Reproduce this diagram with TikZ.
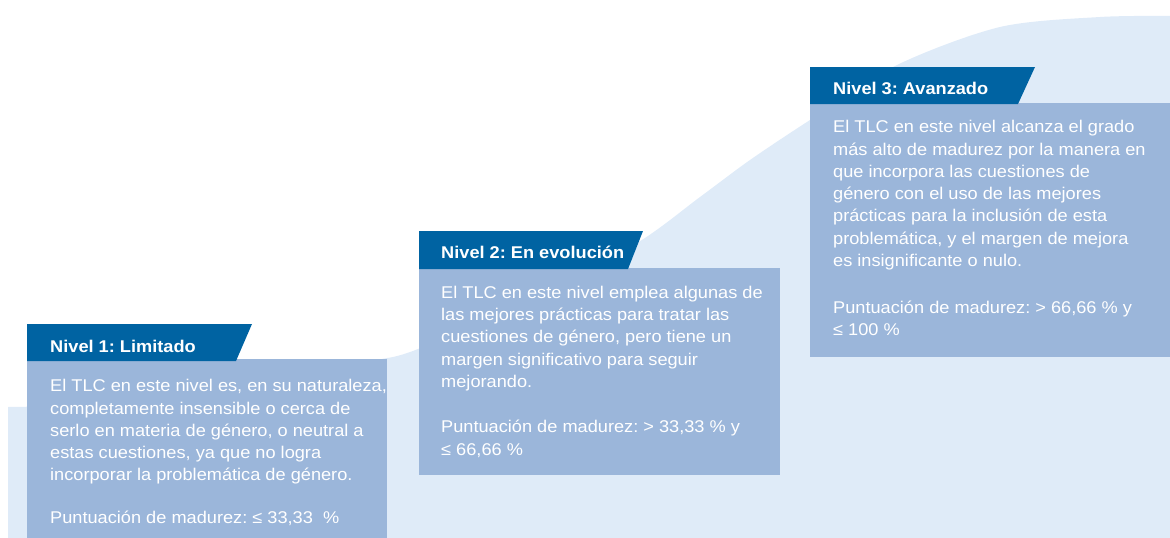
\documentclass[tikz,border=0pt]{standalone}
\usepackage{fontspec}
\setmainfont[FakeStretch=1.07]{Liberation Sans}
\frenchspacing
\definecolor{hdrblue}{HTML}{0063A2}
\definecolor{bodyblue}{HTML}{9BB6DA}
\definecolor{bglight}{HTML}{DFEBF8}
\newcommand{\boxtext}[1]{\parbox[t]{352pt}{\frenchspacing\fontsize{17}{22.3}\selectfont\raggedright #1}}
\tikzset{
  hdrshape/.style={fill=hdrblue},
  bodyshape/.style={fill=bodyblue},
  hdrtext/.style={text=white, inner sep=0pt, anchor=base west, font=\fontsize{17}{20}\selectfont\bfseries\frenchspacing},
  bodytext/.style={text=white, inner sep=0pt, anchor=base west},
}
\begin{document}
\begin{tikzpicture}[x=1pt,y=-1pt]
\useasboundingbox (0,0) rectangle (1170,538);
% background wave
\fill[bglight] (8,538) -- (8,407) -- (150,405) -- plot[smooth] coordinates {(387,358) (418,349) (530,300) (637,243) (700,197) (750,160) (810,120) (897,65) (1000,27) (1100,17) (1170,16)} -- (1170,538) -- cycle;

% Box 1
\fill[bodyshape] (27,359) rectangle (387,538);
\fill[hdrshape] (27,324) -- (252,324) -- (236,361) -- (27,361) -- cycle;
\node[hdrtext] (h1) at (50,352.3) {Nivel 1: Limitado};
\node[bodytext] (t1a) at (50,391.7) {\boxtext{El TLC en este nivel es, en su naturaleza,\\completamente insensible o cerca de\\serlo en materia de género, o neutral a\\estas cuestiones, ya que no logra\\incorporar la problemática de género.}};
\node[bodytext] (t1b) at (50,523.3) {\boxtext{Puntuación de madurez: ≤ 33,33\ \ \%}};

% Box 2
\fill[bodyshape] (419,268) rectangle (780,475);
\fill[hdrshape] (419,231) -- (643,231) -- (628,269) -- (419,269) -- cycle;
\node[hdrtext] (h2) at (441,258.3) {Nivel 2: En evolución};
\node[bodytext] (t2a) at (441,298.3) {\boxtext{El TLC en este nivel emplea algunas de\\las mejores prácticas para tratar las\\cuestiones de género, pero tiene un\\margen significativo para seguir\\mejorando.}};
\node[bodytext] (t2b) at (441,432.7) {\boxtext{Puntuación de madurez: > 33,33 \% y\\≤ 66,66 \%}};

% Box 3
\fill[bodyshape] (810,103) rectangle (1170,357);
\fill[hdrshape] (810,67) -- (1035,67) -- (1018,104) -- (810,104) -- cycle;
\node[hdrtext] (h3) at (833,94) {Nivel 3: Avanzado};
\node[bodytext] (t3a) at (833,132.7) {\boxtext{El TLC en este nivel alcanza el grado\\más alto de madurez por la manera en\\que incorpora las cuestiones de\\género con el uso de las mejores\\prácticas para la inclusión de esta\\problemática, y el margen de mejora\\es insignificante o nulo.}};
\node[bodytext] (t3b) at (833,313.3) {\boxtext{Puntuación de madurez: > 66,66 \% y\\≤ 100 \%}};
\end{tikzpicture}
\end{document}
